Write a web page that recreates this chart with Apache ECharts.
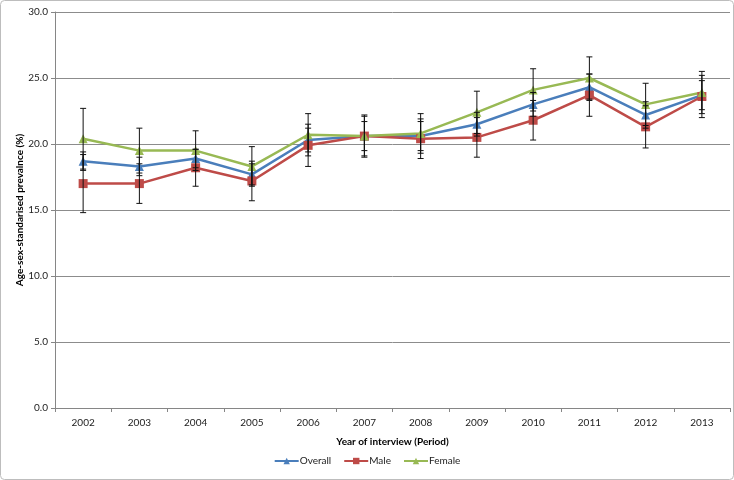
<!DOCTYPE html>
<html><head><meta charset="utf-8">
<script src="https://cdn.jsdelivr.net/npm/echarts@6/dist/echarts.min.js"></script>
<style>html,body{margin:0;padding:0;background:#fff}#c{width:734px;height:480px}</style>
</head><body><div id="c"></div>
<script>
var years = ['2002','2003','2004','2005','2006','2007','2008','2009','2010','2011','2012','2013'];
var yTicks = [0,5,10,15,20,25,30];
var overall = [18.7,18.3,18.9,17.7,20.3,20.6,20.6,21.5,23.0,24.3,22.2,23.7];
var overallLo = [18.0,17.6,18.2,16.9,19.4,19.5,19.5,20.6,22.1,23.3,21.2,22.6];
var overallHi = [19.4,19.0,19.6,18.5,21.2,21.7,21.7,22.4,23.9,25.3,23.2,24.8];
var male = [17.0,17.0,18.2,17.2,19.9,20.6,20.4,20.5,21.8,23.7,21.3,23.6];
var maleLo = [14.8,15.5,16.8,15.7,18.3,19.0,18.9,19.0,20.3,22.1,19.7,22.0];
var maleHi = [19.2,18.5,19.6,18.7,21.5,22.2,21.9,22.0,23.3,25.3,22.9,25.2];
var female = [20.4,19.5,19.5,18.3,20.7,20.6,20.8,22.4,24.1,25.0,23.0,23.9];
var femaleLo = [18.1,17.8,18.0,16.8,19.1,19.1,19.3,20.8,22.5,23.4,21.4,22.3];
var femaleHi = [22.7,21.2,21.0,19.8,22.3,22.1,22.3,24.0,25.7,26.6,24.6,25.5];

var FONT = 'Lato, "Open Sans", sans-serif';
var chart = echarts.init(document.getElementById('c'), null, {renderer:'canvas'});

function errData(lo, hi){ return years.map(function(y,i){ return [i, lo[i], hi[i]]; }); }
function errSeries(lo, hi){
  return {
    type:'custom', data: errData(lo,hi), z: 5, silent:true,
    renderItem: function(params, api){
      var x = api.value(0);
      var a = api.coord([x, api.value(1)]);
      var b = api.coord([x, api.value(2)]);
      var w = 3;
      var st = {stroke:'#111', lineWidth:1};
      return {type:'group', children:[
        {type:'line', shape:{x1:a[0],y1:a[1],x2:b[0],y2:b[1]}, style:st},
        {type:'line', shape:{x1:a[0]-w,y1:a[1],x2:a[0]+w,y2:a[1]}, style:st},
        {type:'line', shape:{x1:b[0]-w,y1:b[1],x2:b[0]+w,y2:b[1]}, style:st}
      ]};
    }
  };
}
function lineSeries(name, data, color, symbol, size){
  return {name:name, type:'line', data:data, symbol:symbol, symbolSize:size,
    itemStyle:{color:color}, lineStyle:{color:color, width:2.5}, z:3, animation:false};
}

chart.setOption({
  animation:false,
  graphic:[{type:'rect', shape:{x:0.5,y:0.5,width:733,height:479,r:4}, style:{fill:'none', stroke:'#bdbdbd', lineWidth:1}, silent:true}],
  grid:{left:55, right:4, top:12, bottom:72},
  legend:{bottom:9, left:'center', itemWidth:24, itemHeight:8, itemGap:12,
    textStyle:{fontFamily:FONT, fontSize:10, color:'#222', padding:[0,0,0,-4]},
    data:['Overall','Male','Female']},
  xAxis:{type:'category', data:years, boundaryGap:true,
    name:'Year of interview (Period)', nameLocation:'middle', nameGap:29,
    nameTextStyle:{fontFamily:FONT, fontSize:10, fontWeight:'bold', color:'#000'},
    axisLine:{lineStyle:{color:'#868686'}},
    axisTick:{show:true, length:4, lineStyle:{color:'#868686'}, alignWithLabel:false},
    axisLabel:{fontFamily:FONT, fontSize:10, color:'#222', margin:10}},
  yAxis:{type:'value', min:0, max:30, interval:5,
    name:'Age-sex-standarised prevalnce (%)', nameLocation:'middle', nameGap:30, nameRotate:90,
    nameMoveOverlap:false,
    nameTextStyle:{fontFamily:FONT, fontSize:10, fontWeight:'bold', color:'#000'},
    axisLine:{show:true, lineStyle:{color:'#868686'}},
    axisTick:{show:true, length:4, inside:false, lineStyle:{color:'#868686'}},
    splitLine:{lineStyle:{color:'#8c8c8c'}},
    axisLabel:{fontFamily:FONT, fontSize:10, color:'#222', margin:7,
      formatter:function(v){ return yTicks.indexOf(v)>=0 ? v.toFixed(1) : ''; }}},
  series:[
    lineSeries('Overall', overall, '#4A7EBB', 'triangle', 9),
    lineSeries('Male', male, '#BE4B48', 'rect', 9),
    lineSeries('Female', female, '#98B954', 'triangle', 9),
    errSeries(overallLo, overallHi),
    errSeries(maleLo, maleHi),
    errSeries(femaleLo, femaleHi)
  ]
});
</script></body></html>
